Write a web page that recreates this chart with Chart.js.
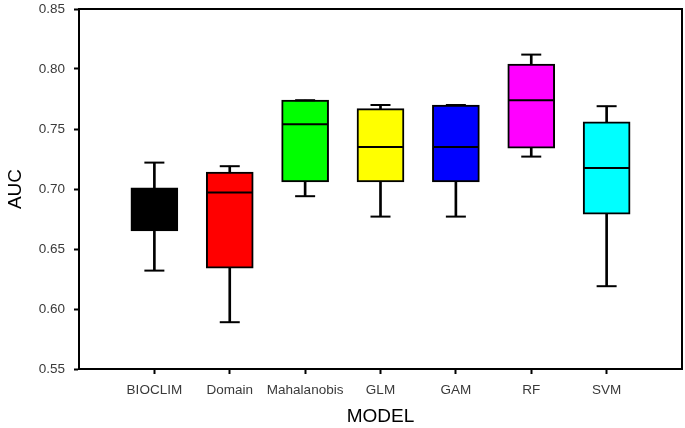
<!DOCTYPE html>
<html>
<head>
<meta charset="utf-8">
<script src="https://cdn.jsdelivr.net/npm/chart.js@4.4.1/dist/chart.umd.min.js"></script>
<style>
html,body{margin:0;padding:0;background:#fff;}
#wrap{width:685px;height:428px;}
</style>
</head>
<body>
<div id="wrap"><canvas id="c" width="685" height="428"></canvas></div>
<script>
const categories = ['BIOCLIM','Domain','Mahalanobis','GLM','GAM','RF','SVM'];
const whiskerMin = [0.632, 0.589, 0.694, 0.677, 0.677, 0.727, 0.619];
const q1Values   = [0.665, 0.634, 0.706, 0.706, 0.706, 0.734, 0.679];
const medians    = [0.680, 0.697, 0.754, 0.735, 0.735, 0.774, 0.7175];
const q3Values   = [0.701, 0.714, 0.774, 0.767, 0.770, 0.804, 0.756];
const whiskerMax = [0.722, 0.719, 0.774, 0.770, 0.770, 0.812, 0.769];
const boxColors  = ['#000000','#ff0000','#00ff00','#ffff00','#0000ff','#ff00ff','#00ffff'];
const yTicks     = [0.55,0.60,0.65,0.70,0.75,0.80,0.85];

const pos = categories.map((c,i)=>i+1);

const framePlugin = {
  id:'frame',
  afterDraw(chart){
    const {ctx, chartArea:a} = chart;
    ctx.save();
    ctx.strokeStyle='#000';
    ctx.lineWidth=2;
    ctx.beginPath();
    ctx.moveTo(a.left, a.top); ctx.lineTo(a.right, a.top); ctx.lineTo(a.right, a.bottom);
    ctx.stroke();
    ctx.restore();
  }
};

new Chart(document.getElementById('c'), {
  type:'bar',
  data:{
    datasets:[
      { type:'bar', label:'whisker', order:3, grouped:false,
        data: pos.map((x,i)=>({x, y:[whiskerMin[i], whiskerMax[i]]})),
        backgroundColor:'#000', barThickness:2, borderWidth:0 },
      { type:'bar', label:'box', order:2, grouped:false,
        data: pos.map((x,i)=>({x, y:[q1Values[i], q3Values[i]]})),
        backgroundColor: boxColors, borderColor:'#000', borderWidth:2,
        borderSkipped:false, barThickness:47 },
      { type:'scatter', label:'caps', order:1,
        data: pos.flatMap((x,i)=>[{x, y:whiskerMin[i]},{x, y:whiskerMax[i]}]),
        pointStyle:'line', pointRadius:10, borderColor:'#000', borderWidth:2, backgroundColor:'#000' },
      { type:'scatter', label:'median', order:0,
        data: pos.map((x,i)=>({x, y:medians[i]})),
        pointStyle:'line', pointRadius:22.5, borderColor:'#000', borderWidth:2, backgroundColor:'#000' }
    ]
  },
  options:{
    responsive:false,
    animation:false,
    events:[],
    layout:{autoPadding:false, padding:{top:9,right:3,left:0,bottom:0}},
    plugins:{legend:{display:false}, tooltip:{enabled:false}},
    scales:{
      x:{
        type:'linear', min:0, max:8, offset:false,
        afterBuildTicks(scale){ scale.ticks = pos.map(v=>({value:v})); },
        afterFit(scale){ scale.height = 59; scale.paddingLeft = 0; scale.paddingRight = 0; },
        ticks:{ callback:(v)=>categories[v-1] ?? '', color:'#3a3a3a', padding:8,
                font:{family:'Liberation Sans, Arial, sans-serif', size:13.5}, maxRotation:0, autoSkip:false },
        grid:{ offset:false, drawOnChartArea:false, drawTicks:true, tickLength:5, tickColor:'#000', tickWidth:2 },
        border:{ display:true, color:'#000', width:2 },
        title:{ display:true, text:'MODEL', color:'#000',
                font:{family:'Liberation Sans, Arial, sans-serif', size:19}, padding:{top:0,bottom:0} }
      },
      y:{
        type:'linear', min:0.55, max:0.85,
        afterBuildTicks(scale){ scale.ticks = yTicks.map(v=>({value:v})); },
        afterFit(scale){ scale.width = 79; scale.paddingTop = 0; scale.paddingBottom = 0; },
        ticks:{ callback:(v)=>v.toFixed(2), color:'#3a3a3a', padding:9,
                font:{family:'Liberation Sans, Arial, sans-serif', size:13.5} },
        grid:{ drawOnChartArea:false, drawTicks:true, tickLength:5, tickColor:'#000', tickWidth:2 },
        border:{ display:true, color:'#000', width:2 },
        title:{ display:true, text:'AUC', color:'#000',
                font:{family:'Liberation Sans, Arial, sans-serif', size:19}, padding:{top:4,bottom:0} }
      }
    }
  },
  plugins:[framePlugin]
});
</script>
</body>
</html>
